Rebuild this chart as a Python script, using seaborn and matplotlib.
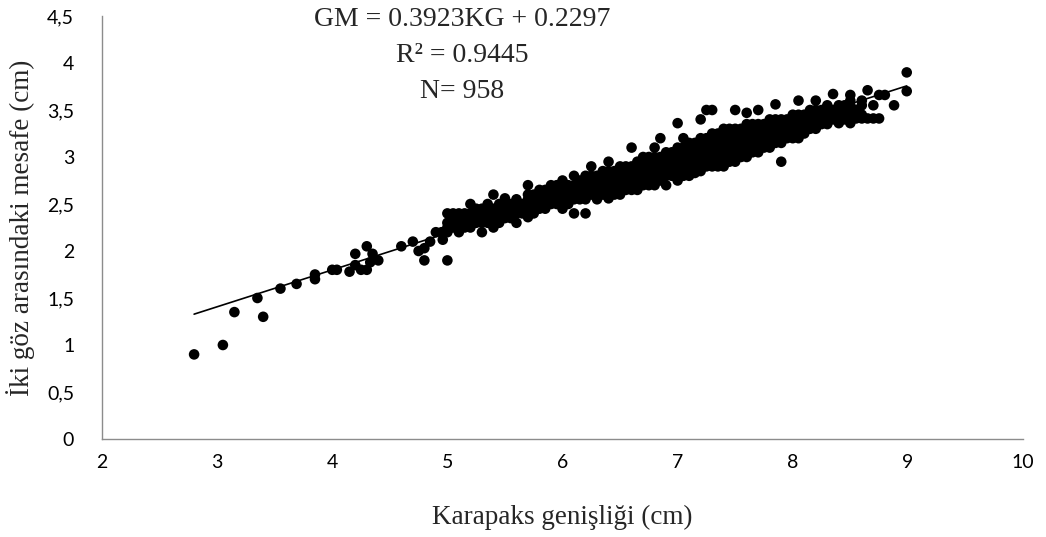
import matplotlib
matplotlib.use("Agg")
import matplotlib.pyplot as plt
import seaborn as sns
import pandas as pd

# ---------------- data ----------------
# small animals, below KG = 5 cm
kg_small = [2.8, 3.05, 3.15, 3.35, 3.4, 3.55, 3.69, 3.85, 3.85, 4.0, 4.04, 4.15,
            4.2, 4.2, 4.25, 4.3, 4.3, 4.33, 4.35, 4.4, 4.6, 4.7, 4.75, 4.8, 4.8,
            4.85, 4.9, 4.95, 4.96]
gm_small = [0.9, 1.0, 1.35, 1.5, 1.3, 1.6, 1.65, 1.7, 1.75, 1.8, 1.8, 1.78,
            1.97, 1.85, 1.8, 1.8, 2.05, 1.88, 1.97, 1.9, 2.05, 2.1, 2.0, 1.9, 2.03,
            2.1, 2.2, 2.2, 2.12]

# main band: one KG value per column with the GM values seen at that KG
band_kg = [5.0, 5.05, 5.1, 5.15, 5.2, 5.25, 5.3, 5.35, 5.4, 5.45, 5.5, 5.55,
           5.6, 5.65, 5.7, 5.75, 5.8, 5.85, 5.9, 5.95, 6.0, 6.05, 6.1, 6.15,
           6.2, 6.25, 6.3, 6.35, 6.4, 6.45, 6.5, 6.55, 6.6, 6.65, 6.7, 6.75,
           6.8, 6.85, 6.9, 6.95, 7.0, 7.05, 7.1, 7.15, 7.2, 7.25, 7.3, 7.35,
           7.4, 7.45, 7.5, 7.55, 7.6, 7.65, 7.7, 7.75, 7.8, 7.85, 7.9, 7.95,
           8.0, 8.05, 8.1, 8.15, 8.2, 8.25, 8.3, 8.35, 8.4, 8.45, 8.5, 8.55,
           8.6, 8.65, 8.7, 8.75, 8.8, 8.88, 8.99]
band_gm = [
    [1.9, 2.2, 2.25, 2.3, 2.4], [2.25, 2.3, 2.35, 2.4], [2.2, 2.3, 2.35, 2.4],
    [2.25, 2.3, 2.4], [2.25, 2.3, 2.35, 2.4, 2.5], [2.3, 2.35, 2.45],
    [2.2, 2.3, 2.4, 2.45], [2.3, 2.35, 2.4, 2.5], [2.25, 2.35, 2.4, 2.45, 2.6],
    [2.3, 2.4, 2.5], [2.35, 2.4, 2.45, 2.5, 2.56], [2.35, 2.45, 2.5],
    [2.3, 2.4, 2.45, 2.5, 2.55], [2.4, 2.45, 2.5], [2.36, 2.45, 2.5, 2.55, 2.6, 2.7],
    [2.4, 2.5, 2.55, 2.6], [2.45, 2.5, 2.55, 2.6, 2.65], [2.45, 2.5, 2.6, 2.65],
    [2.5, 2.55, 2.6, 2.65, 2.7], [2.5, 2.55, 2.6, 2.7], [2.45, 2.55, 2.6, 2.65, 2.7, 2.75],
    [2.5, 2.6, 2.65, 2.7], [2.4, 2.55, 2.6, 2.65, 2.7, 2.8], [2.55, 2.6, 2.7, 2.75],
    [2.4, 2.55, 2.6, 2.65, 2.7, 2.75, 2.8], [2.6, 2.65, 2.7, 2.8, 2.9],
    [2.55, 2.6, 2.65, 2.7, 2.75, 2.8], [2.6, 2.65, 2.7, 2.8, 2.85],
    [2.56, 2.6, 2.7, 2.75, 2.8, 2.85, 2.95], [2.6, 2.65, 2.75, 2.8, 2.85],
    [2.6, 2.65, 2.7, 2.75, 2.8, 2.85, 2.9], [2.65, 2.7, 2.8, 2.85, 2.9],
    [2.65, 2.7, 2.75, 2.8, 2.85, 2.9, 3.1], [2.65, 2.7, 2.8, 2.85, 2.9, 2.95],
    [2.7, 2.75, 2.8, 2.85, 2.9, 2.95, 3.0], [2.7, 2.8, 2.85, 2.9, 3.0],
    [2.7, 2.75, 2.8, 2.85, 2.9, 2.95, 3.0, 3.1], [2.75, 2.8, 2.9, 2.95, 3.0, 3.2],
    [2.7, 2.8, 2.85, 2.9, 2.95, 3.0, 3.05], [2.8, 2.85, 2.9, 3.0, 3.05],
    [2.75, 2.8, 2.85, 2.9, 2.95, 3.0, 3.05, 3.1, 3.36], [2.8, 2.9, 2.95, 3.0, 3.1, 3.2],
    [2.8, 2.85, 2.9, 2.95, 3.0, 3.05, 3.1, 3.15], [2.83, 2.9, 2.95, 3.0, 3.1, 3.15],
    [2.85, 2.9, 2.95, 3.0, 3.05, 3.1, 3.15, 3.2, 3.4], [2.9, 2.95, 3.0, 3.1, 3.15, 3.2, 3.5],
    [2.9, 2.95, 3.0, 3.05, 3.1, 3.15, 3.2, 3.25, 3.5], [2.9, 3.0, 3.05, 3.1, 3.2, 3.25],
    [2.9, 2.95, 3.0, 3.05, 3.1, 3.15, 3.2, 3.25, 3.3], [2.95, 3.0, 3.1, 3.15, 3.2, 3.3],
    [2.95, 3.0, 3.05, 3.1, 3.15, 3.2, 3.25, 3.3, 3.5], [3.0, 3.05, 3.1, 3.2, 3.25, 3.3],
    [3.0, 3.05, 3.1, 3.15, 3.2, 3.25, 3.3, 3.35, 3.47], [3.05, 3.1, 3.2, 3.25, 3.3, 3.35],
    [3.05, 3.1, 3.15, 3.2, 3.25, 3.3, 3.35, 3.5], [3.1, 3.15, 3.2, 3.3, 3.35],
    [3.1, 3.15, 3.2, 3.25, 3.3, 3.35, 3.4], [3.15, 3.2, 3.25, 3.3, 3.4, 3.56],
    [2.95, 3.15, 3.2, 3.25, 3.3, 3.35, 3.4], [3.2, 3.25, 3.3, 3.35, 3.4],
    [3.2, 3.25, 3.3, 3.35, 3.4, 3.45], [3.2, 3.25, 3.3, 3.4, 3.45, 3.6],
    [3.25, 3.3, 3.35, 3.4, 3.45], [3.3, 3.35, 3.4, 3.45, 3.5],
    [3.3, 3.35, 3.4, 3.45, 3.5, 3.6], [3.35, 3.4, 3.45, 3.5],
    [3.35, 3.4, 3.45, 3.5, 3.55], [3.4, 3.45, 3.5, 3.67], [3.36, 3.45, 3.5, 3.55],
    [3.4, 3.5, 3.55], [3.36, 3.45, 3.55, 3.6, 3.66], [3.41, 3.5],
    [3.41, 3.45, 3.55, 3.6], [3.41, 3.71], [3.41, 3.55], [3.41, 3.66], [3.66],
    [3.55], [3.7, 3.9],
]

# published regression line
slope = 0.3923
intercept = 0.2297
equation_lines = ["GM = 0.3923KG + 0.2297", "R² = 0.9445", "N= 958"]

x_ticks = [2, 3, 4, 5, 6, 7, 8, 9, 10]
y_ticks = [0, 0.5, 1, 1.5, 2, 2.5, 3, 3.5, 4, 4.5]
y_tick_labels = ["0", "0,5", "1", "1,5", "2", "2,5", "3", "3,5", "4", "4,5"]
x_label = "Karapaks genişliği (cm)"
y_label = "İki göz arasındaki mesafe (cm)"

# ---------------- build table ----------------
rows = [(k, g) for k, g in zip(kg_small, gm_small)]
for k, gs in zip(band_kg, band_gm):
    for g in gs:
        rows.append((k, g))
df = pd.DataFrame(rows, columns=["KG", "GM"])

x0, x1 = df["KG"].min(), df["KG"].max()
line_df = pd.DataFrame({"KG": [x0, x1],
                        "GM": [slope * x0 + intercept, slope * x1 + intercept]})

# ---------------- plot ----------------
sns.set_style("white")
plt.rcParams["font.family"] = ["Lato", "DejaVu Sans"]
serif = ["Liberation Serif", "DejaVu Serif"]

W, H = 1046, 537
fig = plt.figure(figsize=(W / 100, H / 100), dpi=100)
L, R, T, B = 102, 1023, 16, 439
ax = fig.add_axes([L / W, 1 - B / H, (R - L) / W, (B - T) / H])

sns.scatterplot(data=df, x="KG", y="GM", s=58, color="black",
                edgecolor="none", linewidth=0, ax=ax, zorder=3)
sns.lineplot(data=line_df, x="KG", y="GM", color="black", linewidth=1.2,
             ax=ax, zorder=4)

ax.set_xlim(2, 10)
ax.set_ylim(0, 4.5)
ax.set_xticks(x_ticks)
ax.set_xticklabels([str(t) for t in x_ticks])
ax.set_yticks(y_ticks)
ax.set_yticklabels(y_tick_labels)
ax.tick_params(axis="both", length=0, labelsize=14, colors="black")
ax.tick_params(axis="x", pad=11)
ax.tick_params(axis="y", pad=20)

for s in ["top", "right"]:
    ax.spines[s].set_visible(False)
for s in ["left", "bottom"]:
    ax.spines[s].set_color("#8c8c8c")
    ax.spines[s].set_linewidth(1.0)

ax.set_xlabel(x_label, fontfamily=serif, fontsize=19.5)
ax.set_ylabel(y_label, fontfamily=serif, fontsize=19.5)
ax.xaxis.set_label_coords(0.5, (B - 517) / (B - T))
ax.yaxis.set_label_coords((21 - L) / (R - L), 0.5)
ax.xaxis.label.set_va("center")
ax.yaxis.label.set_va("center")

for txt, yc in zip(equation_lines, [19, 56, 91]):
    fig.text(462 / W, 1 - yc / H, txt, ha="center", va="center",
             fontfamily=serif, fontsize=20)

fig.savefig("out.png", dpi=100)
